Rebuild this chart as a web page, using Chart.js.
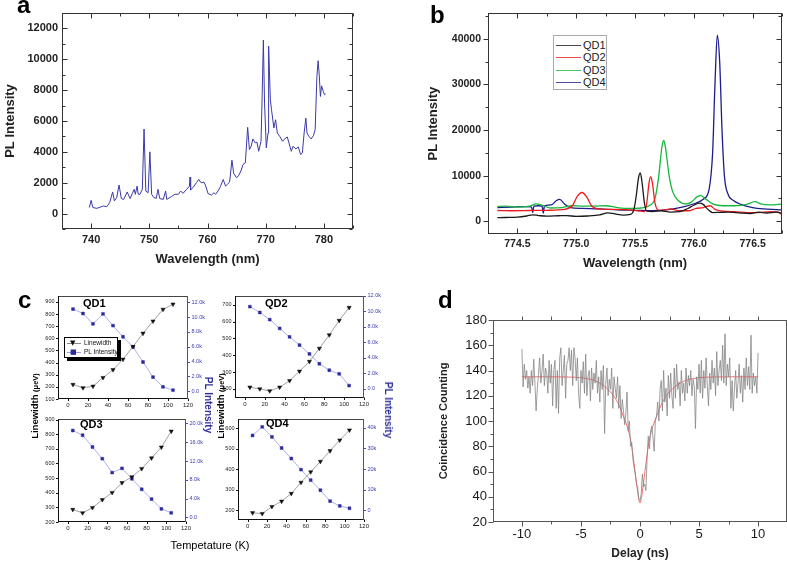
<!DOCTYPE html>
<html><head><meta charset="utf-8">
<script src="https://cdn.jsdelivr.net/npm/chart.js@4.4.1/dist/chart.umd.min.js"></script>
<style>
html,body{margin:0;padding:0;background:#fff;}
body{width:787px;height:561px;position:relative;overflow:hidden;font-family:"Liberation Sans",Arial,Helvetica,sans-serif;}
canvas{position:absolute;}
.t{position:absolute;white-space:nowrap;line-height:1;}
.rot{position:absolute;white-space:nowrap;line-height:1;transform:translate(-50%,-50%) rotate(-90deg);}
.rotR{position:absolute;white-space:nowrap;line-height:1;transform:translate(-50%,-50%) rotate(90deg);}
</style></head><body>
<canvas id="ca"></canvas>
<canvas id="cb"></canvas>
<canvas id="cq1"></canvas>
<canvas id="cq2"></canvas>
<canvas id="cq3"></canvas>
<canvas id="cq4"></canvas>
<canvas id="cd"></canvas>

<div class="t" style="left:17px;top:-7px;font-weight:bold;font-size:24px;">a</div>
<div class="t" style="left:430px;top:3px;font-weight:bold;font-size:24px;">b</div>
<div class="t" style="left:18px;top:288px;font-weight:bold;font-size:24px;">c</div>
<div class="t" style="left:438px;top:288px;font-weight:bold;font-size:24px;">d</div>

<div id="legB" style="position:absolute;left:553px;top:35px;width:52px;height:53px;border:1px solid #aaa;background:#fff;"></div>
<div id="legC" style="position:absolute;left:64px;top:337px;width:52px;height:19px;border:1px solid #000;background:#fff;box-shadow:3px 3px 0 #000;"></div>

<div class="t" style="left:83px;top:298px;font-weight:bold;font-size:11px;">QD1</div>
<div class="t" style="left:265px;top:298px;font-weight:bold;font-size:11px;">QD2</div>
<div class="t" style="left:80px;top:419px;font-weight:bold;font-size:11px;">QD3</div>
<div class="t" style="left:266px;top:418px;font-weight:bold;font-size:11px;">QD4</div>

<div class="rot" style="left:35px;top:406px;font-weight:bold;font-size:9.5px;">Linewidth <span style="font-size:7.5px">(μeV)</span></div>
<div class="rot" style="left:221px;top:406px;font-weight:bold;font-size:9.5px;">Linewidth <span style="font-size:7.5px">(μeV)</span></div>
<div class="rotR" style="left:208px;top:405px;font-weight:bold;font-size:10px;color:#2e2e99;">PL Intensity</div>
<div class="rotR" style="left:388px;top:410px;font-weight:bold;font-size:10px;color:#2e2e99;">PL Intensity</div>
<div class="t" style="left:210px;top:545px;transform:translate(-50%,-50%);font-size:11px;">Tempetature (K)</div>

<script>
// ---------------- DATA ----------------
// Panel a: PL spectrum
const aWavelength = [739.7,740.0,740.3,741.0,742.1,742.7,743.2,743.7,744.0,744.4,744.8,745.2,745.6,746.2,746.7,747.1,747.4,747.6,747.9,748.1,748.4,748.8,749.1,749.4,749.8,750.1,750.4,750.8,751.2,751.5,751.8,752.4,752.8,753.0,753.8,754.4,755.0,755.4,755.8,756.4,756.9,757.0,757.1,757.5,758.1,758.5,758.9,759.4,759.7,760.1,760.7,761.1,761.4,761.8,762.2,762.7,763.1,763.4,763.8,764.2,764.5,765.0,765.4,765.8,766.1,766.5,766.9,767.2,767.5,767.8,768.2,768.5,768.8,769.2,769.4,769.6,769.8,770.1,770.4,770.5,770.8,771.0,771.4,771.7,772.0,772.4,772.9,773.3,773.7,774.0,774.4,774.7,775.2,775.6,776.0,776.3,776.6,776.9,777.1,777.4,777.8,778.2,778.5,778.8,779.0,779.2,779.4,779.6,779.9,780.1,780.3];
const aIntensity = [390,860,390,340,490,450,710,1400,820,1030,1850,970,920,1400,970,1310,1570,1250,1780,1250,1250,1570,5480,1460,1350,4000,1250,1030,990,1570,970,920,1460,920,1100,1250,1250,1460,1310,1570,1780,2370,1530,1680,2000,2210,2000,2040,1780,1290,1200,1350,1250,1460,1740,2210,1780,1890,2040,3460,2600,2320,2490,2820,3180,3290,5590,4150,4360,4840,4580,4620,4040,4690,7800,11240,7160,4260,5220,10860,7370,6730,5550,6080,5220,5010,4690,4840,4970,4580,4040,4360,4190,4320,3830,3930,5220,6190,5220,5010,4840,5050,5440,8880,9910,8990,7590,8280,7910,7700,7760];
const aXTicks = [740,750,760,770,780];
const aYTicks = [0,2000,4000,6000,8000,10000,12000];

// Panel b: four quantum dots
const bSeriesNames = ['QD1','QD2','QD3','QD4'];
const qd1Wavelength = [774.33,774.40,774.50,774.58,774.63,774.68,774.75,774.85,774.92,775.00,775.10,775.20,775.27,775.33,775.40,775.46,775.49,775.51,775.53,775.545,775.56,775.58,775.60,775.65,775.72,775.80,775.88,775.95,776.00,776.05,776.08,776.12,776.16,776.22,776.30,776.40,776.48,776.55,776.62,776.70,776.75];
const qd1Intensity  = [800,820,880,1150,1400,1250,1100,1200,1250,1050,1150,1400,1850,1600,1350,1500,2500,5500,9500,10600,8500,4000,2200,2100,2300,2000,2100,2800,3500,3950,3700,2600,1900,1950,2000,1800,1700,2000,1800,2000,1700];
const qd2Wavelength = [774.33,774.45,774.60,774.75,774.90,774.97,775.01,775.05,775.09,775.13,775.18,775.30,775.45,775.55,775.58,775.60,775.62,775.635,775.65,775.67,775.70,775.76,775.80,775.88,775.95,776.02,776.08,776.14,776.18,776.25,776.35,776.45,776.55,776.65,776.72,776.75];
const qd2Intensity  = [2350,2300,2350,2400,2600,3500,5500,6300,5300,3400,2700,2600,2500,2200,2100,4000,8500,9800,8000,4000,2400,2500,2700,2300,2300,2800,3000,3400,2600,2200,2100,1900,1900,2100,2000,1400];
const qd3Wavelength = [774.33,774.40,774.50,774.60,774.66,774.70,774.78,774.88,774.97,775.05,775.15,775.25,775.35,775.45,775.55,775.62,775.67,775.70,775.73,775.745,775.76,775.79,775.82,775.87,775.93,775.98,776.03,776.06,776.10,776.16,776.25,776.35,776.45,776.52,776.57,776.65,776.75];
const qd3Intensity  = [3200,3300,3100,3300,3800,3600,2900,3000,3400,3300,3300,3400,3000,2800,2900,3400,5000,9500,16500,17700,16000,10000,6500,4500,3800,4200,5400,5600,4900,3800,3400,3400,3700,4300,3800,3600,3800];
const qd4Wavelength = [774.33,774.45,774.55,774.62,774.63,774.64,774.68,774.71,774.72,774.73,774.79,774.83,774.86,774.90,774.95,775.05,775.20,775.35,775.50,775.65,775.80,775.92,776.02,776.08,776.13,776.16,776.18,776.20,776.22,776.24,776.26,776.29,776.34,776.40,776.50,776.60,776.75];
const qd4Intensity  = [3000,3100,3200,3150,1900,3300,3400,3300,1800,3300,3600,4500,4800,3800,3000,2800,2700,2500,2400,2300,2600,3200,4000,4800,7000,15000,30000,40800,35000,20000,10000,6000,4500,3700,3000,2700,2500];
const bXTicks = [774.5,775.0,775.5,776.0,776.5];
const bYTicks = [0,10000,20000,30000,40000];

// Panel c: temperature dependence
const temps = [5,15,25,35,45,55,65,75,85,95,105];
const qd1Linewidth = [219,192,205,276,341,427,532,641,741,838,881];
const qd1PL        = [11100,10500,9100,10450,8860,7350,5980,3940,1900,580,130];
const qd2Linewidth = [210,200,188,210,249,305,363,441,521,607,684];
const qd2PL        = [10600,9850,8930,7790,6700,5640,4500,3240,2400,1940,420];
const qd3Linewidth = [285,262,298,352,401,468,508,564,637,711,820];
const qd3PL        = [18500,17500,14990,12500,9550,10450,8220,5990,3900,1810,980];
const qd4Linewidth = [187,183,217,243,281,335,386,437,489,541,590];
const qd4PL        = [36300,40500,35600,30200,25100,19700,14600,9700,4400,2060,950];
const cXTicks = [0,20,40,60,80,100,120];
const qd1LwTicks = [100,200,300,400,500,600,700,800,900];
const qd2LwTicks = [200,300,400,500,600,700];
const qd3LwTicks = [200,300,400,500,600,700,800,900];
const qd4LwTicks = [200,300,400,500,600];
const qd1PLTicks = [0,2000,4000,6000,8000,10000,12000];
const qd2PLTicks = [0,2000,4000,6000,8000,10000,12000];
const qd3PLTicks = [0,4000,8000,12000,16000,20000];
const qd4PLTicks = [0,10000,20000,30000,40000];

// Panel d: coincidence counts
const dDelay = [-10,-9.9,-9.8,-9.7,-9.6,-9.5,-9.4,-9.3,-9.2,-9.1,-9,-8.9,-8.8,-8.7,-8.6,-8.5,-8.4,-8.3,-8.2,-8.1,-8,-7.9,-7.8,-7.7,-7.6,-7.5,-7.4,-7.3,-7.2,-7.1,-7,-6.9,-6.8,-6.7,-6.6,-6.5,-6.4,-6.3,-6.2,-6.1,-6,-5.9,-5.8,-5.7,-5.6,-5.5,-5.4,-5.3,-5.2,-5.1,-5,-4.9,-4.8,-4.7,-4.6,-4.5,-4.4,-4.3,-4.2,-4.1,-4,-3.9,-3.8,-3.7,-3.6,-3.5,-3.4,-3.3,-3.2,-3.1,-3,-2.9,-2.8,-2.7,-2.6,-2.5,-2.4,-2.3,-2.2,-2.1,-2,-1.9,-1.8,-1.7,-1.6,-1.5,-1.4,-1.3,-1.2,-1.1,-1,-0.9,-0.8,-0.7,-0.6,-0.5,-0.4,-0.3,-0.2,-0.1,0,0.1,0.2,0.3,0.4,0.5,0.6,0.7,0.8,0.9,1,1.1,1.2,1.3,1.4,1.5,1.6,1.7,1.8,1.9,2,2.1,2.2,2.3,2.4,2.5,2.6,2.7,2.8,2.9,3,3.1,3.2,3.3,3.4,3.5,3.6,3.7,3.8,3.9,4,4.1,4.2,4.3,4.4,4.5,4.6,4.7,4.8,4.9,5,5.1,5.2,5.3,5.4,5.5,5.6,5.7,5.8,5.9,6,6.1,6.2,6.3,6.4,6.5,6.6,6.7,6.8,6.9,7,7.1,7.2,7.3,7.4,7.5,7.6,7.7,7.8,7.9,8,8.1,8.2,8.3,8.4,8.5,8.6,8.7,8.8,8.9,9,9.1,9.2,9.3,9.4,9.5,9.6,9.7,9.8,9.9,10];
const dCounts = [157,127,145,133,140,126,135,122,140,128,
 149,130,108,125,137,150,130,140,153,128,
 142,138,122,148,130,145,112,140,148,110,
 140,106,150,158,128,140,152,118,145,148,
 158,140,156,128,158,150,132,150,122,110,
 140,130,147,122,153,120,135,140,116,142,
 125,138,130,148,122,135,115,140,125,144,
 90,130,142,120,133,125,142,110,135,126,
 118,135,110,128,102,117,108,97,106,123,
 92,100,80,83,70,63,58,50,48,38,
 37,42,58,48,50,45,70,88,78,92,
 96,87,76,100,104,115,100,125,132,108,
 140,115,126,104,136,118,138,120,110,142,
 118,145,125,131,112,140,122,130,116,142,
 122,136,128,140,120,133,127,94,135,125,
 145,122,148,118,140,126,150,128,112,138,
 125,148,130,142,120,155,128,140,148,132,
 160,130,169,128,145,135,150,110,132,108,
 125,140,118,130,145,122,136,115,142,125,
 150,128,143,125,168,122,138,128,135,122,
 154];
const dFitDelay = [-10,-8,-6,-5,-4,-3.5,-3,-2.5,-2,-1.75,-1.5,-1.25,-1,-0.75,-0.5,-0.35,-0.2,-0.1,0,0.1,0.2,0.35,0.5,0.75,1,1.25,1.5,1.75,2,2.5,3,3.5,4,5,6,8,10];
const dFitCount = [135,135,134.8,134.3,132.5,130.5,127.5,123,116.5,112,106,100,93,83,66,55,44,38,35,38,44,55,66,83,93,100,106,112,116.5,123,127.5,130.5,132.5,134.3,134.8,135,135];
const dXTicks = [-10,-5,0,5,10];
const dYTicks = [20,40,60,80,100,120,140,160,180];

// ---------------- HELPERS ----------------
Chart.defaults.font.family = "'Liberation Sans', Arial, Helvetica, sans-serif";
Chart.defaults.color = '#1a1a1a';

const pts = (xs, ys) => xs.map((x, i) => ({x, y: ys[i]}));
const fixedTicks = arr => (s => { s.ticks = arr.map(v => ({value: v})); });
const plain = v => String(v);

const frameTicks = {
  id: 'frameTicks',
  afterDatasetsDraw(chart, args, o) {
    if (!o || !o.sides) return;
    const {ctx, chartArea: a} = chart;
    const L = Math.round(a.left) + 0.5, R = Math.round(a.right) - 0.5;
    const T = Math.round(a.top) + 0.5, B = Math.round(a.bottom) - 0.5;
    ctx.save();
    ctx.lineWidth = 1;
    for (const side of ['top', 'bottom', 'left', 'right']) {
      const s = o.sides[side];
      if (!s) continue;
      ctx.strokeStyle = s.color;
      ctx.beginPath();
      if (side === 'left') { ctx.moveTo(L, T - 0.5); ctx.lineTo(L, B + 0.5); }
      if (side === 'right') { ctx.moveTo(R, T - 0.5); ctx.lineTo(R, B + 0.5); }
      if (side === 'top') { ctx.moveTo(L - 0.5, T); ctx.lineTo(R + 0.5, T); }
      if (side === 'bottom') { ctx.moveTo(L - 0.5, B); ctx.lineTo(R + 0.5, B); }
      const sc = s.scale ? chart.scales[s.scale] : null;
      if (sc && s.dir) {
        const vals = sc.ticks.map(t => ({v: t.value, len: s.len}));
        if (s.minor) {
          const st = s.minor;
          for (let v = Math.ceil(sc.min / st) * st; v <= sc.max + 1e-9; v += st) {
            if (!sc.ticks.some(t => Math.abs(t.value - v) < st * 1e-3)) vals.push({v, len: s.minorLen});
          }
        }
        for (const {v, len} of vals) {
          const p = Math.round(sc.getPixelForValue(v)) + 0.5;
          const d = len * s.dir;
          if (side === 'left') { ctx.moveTo(L, p); ctx.lineTo(L + d, p); }
          if (side === 'right') { ctx.moveTo(R, p); ctx.lineTo(R - d, p); }
          if (side === 'top') { ctx.moveTo(p, T); ctx.lineTo(p, T + d); }
          if (side === 'bottom') { ctx.moveTo(p, B); ctx.lineTo(p, B - d); }
        }
      }
      ctx.stroke();
    }
    ctx.restore();
  }
};

function build(id, rect, area, cfg) {
  const cv = document.getElementById(id);
  cv.width = rect.w; cv.height = rect.h;
  cv.style.left = rect.x + 'px'; cv.style.top = rect.y + 'px';
  cv.style.width = rect.w + 'px'; cv.style.height = rect.h + 'px';
  const leftW = area.l - rect.x, rightW = rect.x + rect.w - area.r;
  const topP = area.t - rect.y, bottomH = rect.y + rect.h - area.b;
  const scales = cfg.scales;
  const hasRight = Object.values(scales).some(s => s.position === 'right');
  for (const k in scales) {
    const s = scales[k];
    const size = s.position === 'left' ? leftW : s.position === 'right' ? rightW : bottomH;
    s.afterFit = sc => { if (sc.isHorizontal()) sc.height = size; else sc.width = size; };
    s.grid = {display: false, drawTicks: false};
    s.border = {display: false};
    s.ticks = Object.assign({autoSkip: false, maxRotation: 0, minRotation: 0, callback: plain}, s.ticks || {});
  }
  return new Chart(cv, {
    type: 'line',
    data: {datasets: cfg.datasets},
    options: {
      responsive: false, animation: false, devicePixelRatio: 1,
      layout: {padding: {left: 0, top: topP, right: hasRight ? 0 : rightW, bottom: 0}},
      plugins: {legend: {display: false}, tooltip: {enabled: false}, frameTicks: cfg.frame},
      scales
    },
    plugins: [frameTicks]
  });
}

// ---------------- PANEL A ----------------
build('ca', {x: 0, y: 0, w: 400, h: 275}, {l: 62, t: 13, r: 353, b: 229}, {
  datasets: [{data: pts(aWavelength, aIntensity), borderColor: '#3a3aa8', borderWidth: 1, pointRadius: 0, tension: 0}],
  scales: {
    x: {type: 'linear', position: 'bottom', min: 735, max: 785, afterBuildTicks: fixedTicks(aXTicks),
        ticks: {font: {size: 11, weight: 'bold'}, padding: 4, color: '#222'},
        title: {display: true, text: 'Wavelength (nm)', font: {size: 13, weight: 'bold'}, padding: {top: 0, bottom: 8}, color: '#222'}},
    y: {type: 'linear', position: 'left', min: -1000, max: 13000, afterBuildTicks: fixedTicks(aYTicks),
        ticks: {font: {size: 11, weight: 'bold'}, padding: 4, color: '#222'},
        title: {display: true, text: 'PL Intensity', font: {size: 13, weight: 'bold'}, padding: {top: 3, bottom: 0}, color: '#222'}}
  },
  frame: {sides: {
    left: {color: '#333', scale: 'y', dir: 1, len: 5, minor: 1000, minorLen: 3},
    right: {color: '#333', scale: 'y', dir: 1, len: 5, minor: 1000, minorLen: 3},
    bottom: {color: '#333', scale: 'x', dir: 1, len: 5, minor: 5, minorLen: 3},
    top: {color: '#333', scale: 'x', dir: 1, len: 5, minor: 5, minorLen: 3}
  }}
});

// ---------------- PANEL B ----------------
const bColors = ['#1a1a1a', '#ee1c1c', '#14b83c', '#1c1c8c'];
const bX = [qd1Wavelength, qd2Wavelength, qd3Wavelength, qd4Wavelength];
const bY = [qd1Intensity, qd2Intensity, qd3Intensity, qd4Intensity];
build('cb', {x: 420, y: 0, w: 367, h: 280}, {l: 488, t: 13, r: 782, b: 234}, {
  datasets: bSeriesNames.map((n, i) => ({label: n, data: pts(bX[i], bY[i]), borderColor: bColors[i], borderWidth: 1.3, pointRadius: 0, cubicInterpolationMode: 'monotone'})),
  scales: {
    x: {type: 'linear', position: 'bottom', min: 774.25, max: 776.75, afterBuildTicks: fixedTicks(bXTicks),
        ticks: {font: {size: 10.5, weight: 'bold'}, padding: 4, color: '#222', callback: v => v.toFixed(1)},
        title: {display: true, text: 'Wavelength (nm)', font: {size: 13, weight: 'bold'}, padding: {top: 0, bottom: 8.7}, color: '#222'}},
    y: {type: 'linear', position: 'left', min: -2800, max: 45600, afterBuildTicks: fixedTicks(bYTicks),
        ticks: {font: {size: 10.5, weight: 'bold'}, padding: 7, color: '#222'},
        title: {display: true, text: 'PL Intensity', font: {size: 13, weight: 'bold'}, padding: {top: 5.7, bottom: 0}, color: '#222'}}
  },
  frame: {sides: {
    left: {color: '#333', scale: 'y', dir: -1, len: 5, minor: 5000, minorLen: 3},
    right: {color: '#333', scale: 'y', dir: 1, len: 5, minor: 5000, minorLen: 3},
    bottom: {color: '#333', scale: 'x', dir: 1, len: 5, minor: 0.25, minorLen: 3},
    top: {color: '#333', scale: 'x', dir: 1, len: 5, minor: 0.25, minorLen: 3}
  }}
});

// legend b
(function () {
  const leg = document.getElementById('legB');
  bSeriesNames.forEach((n, i) => {
    const row = document.createElement('div');
    row.style.cssText = 'position:absolute;left:0;top:' + (3 + i * 12.3) + 'px;height:12px;width:52px;';
    row.innerHTML = '<div style="position:absolute;left:2px;top:6px;width:25px;border-top:1.5px solid ' + bColors[i] + ';opacity:0.8"></div>' +
      '<div style="position:absolute;left:29px;top:0;font-size:11px;line-height:12px;color:#222;white-space:nowrap">' + n + '</div>';
    leg.appendChild(row);
  });
})();

// ---------------- PANEL C ----------------
const plFmt = v => v === 0 ? '0.0' : (v / 1000).toFixed(1) + 'k';
const plFmtK = v => v === 0 ? '0' : (v / 1000) + 'k';
function qdChart(id, rect, area, lw, pl, yr, y1r, lwTicks, plTicks, fmt) {
  return build(id, rect, area, {
    datasets: [
      {data: pts(temps, lw), yAxisID: 'y', borderColor: '#8a8a8a', borderWidth: 0.8, pointStyle: 'triangle', pointRotation: 180, pointRadius: 2.4, pointBackgroundColor: '#111', pointBorderColor: '#111', pointBorderWidth: 0.5},
      {data: pts(temps, pl), yAxisID: 'y1', borderColor: '#9a9ae6', borderWidth: 0.8, pointStyle: 'rect', pointRadius: 2, pointBackgroundColor: '#2b2b9c', pointBorderColor: '#2b2b9c', pointBorderWidth: 0.5}
    ],
    scales: {
      x: {type: 'linear', position: 'bottom', min: -10, max: 120, afterBuildTicks: fixedTicks(cXTicks),
          ticks: {font: {size: 6}, padding: 3, color: '#222'}},
      y: {type: 'linear', position: 'left', min: yr[0], max: yr[1], afterBuildTicks: fixedTicks(lwTicks),
          ticks: {font: {size: 5.5}, padding: 3.5, color: '#222'}},
      y1: {type: 'linear', position: 'right', min: y1r[0], max: y1r[1], afterBuildTicks: fixedTicks(plTicks),
          ticks: {font: {size: 5.5}, padding: 3.5, color: '#3b3bb0', callback: fmt}}
    },
    frame: {sides: {
      top: {color: '#444'},
      left: {color: '#111', scale: 'y', dir: -1, len: 2.5},
      right: {color: '#4a4ac0', scale: 'y1', dir: -1, len: 2.5},
      bottom: {color: '#111', scale: 'x', dir: -1, len: 2.5}
    }}
  });
}
qdChart('cq1', {x: 33, y: 289, w: 180, h: 124}, {l: 58, t: 294, r: 188, b: 399}, qd1Linewidth, qd1PL, [100, 950], [-1060, 12890], qd1LwTicks, qd1PLTicks, plFmt);
qdChart('cq2', {x: 210, y: 289, w: 180, h: 124}, {l: 235, t: 294, r: 364, b: 398}, qd2Linewidth, qd2PL, [146, 754], [-1180, 12000], qd2LwTicks, qd2PLTicks, plFmt);
qdChart('cq3', {x: 33, y: 412, w: 180, h: 124}, {l: 58, t: 417, r: 186, b: 522}, qd3Linewidth, qd3PL, [200, 905], [-980, 21000], qd3LwTicks, qd3PLTicks, plFmt);
qdChart('cq4', {x: 213, y: 412, w: 176, h: 124}, {l: 238, t: 417, r: 364, b: 520}, qd4Linewidth, qd4PL, [152, 645], [-4760, 44400], qd4LwTicks, qd4PLTicks, plFmtK);

// legend c (QD1)
(function () {
  const leg = document.getElementById('legC');
  const items = [['Linewidth', '#111', '#8a8a8a', '▼'], ['PL Intensity', '#2b2b9c', '#9a9ae6', '■']];
  items.forEach((it, i) => {
    const row = document.createElement('div');
    row.style.cssText = 'position:absolute;left:0;top:' + (1 + i * 8.5) + 'px;height:8px;width:52px;';
    row.innerHTML = '<div style="position:absolute;left:2px;top:4px;width:14px;border-top:1px solid ' + it[2] + '"></div>' +
      '<div style="position:absolute;left:5px;top:0;font-family:\'DejaVu Sans\';font-size:7px;line-height:8px;color:' + it[1] + '">' + it[3] + '</div>' +
      '<div style="position:absolute;left:19px;top:0;font-size:6.5px;line-height:8px;color:#111;white-space:nowrap">' + it[0] + '</div>';
    leg.appendChild(row);
  });
})();

// ---------------- PANEL D ----------------
build('cd', {x: 430, y: 285, w: 357, h: 276}, {l: 493, t: 320, r: 787, b: 522}, {
  datasets: [
    {data: pts(dDelay, dCounts), borderColor: '#858585', borderWidth: 0.8, pointRadius: 0, tension: 0},
    {data: pts(dFitDelay, dFitCount), borderColor: '#ff6a6a', borderWidth: 1, pointRadius: 0, cubicInterpolationMode: 'monotone'}
  ],
  scales: {
    x: {type: 'linear', position: 'bottom', min: -12.45, max: 12.45, afterBuildTicks: fixedTicks(dXTicks),
        ticks: {font: {size: 13}, padding: 5, color: '#1a1a1a'},
        title: {display: true, text: 'Delay (ns)', font: {size: 12, weight: 'bold'}, padding: {top: 0, bottom: 0}, color: '#222'}},
    y: {type: 'linear', position: 'left', min: 20, max: 180, afterBuildTicks: fixedTicks(dYTicks),
        ticks: {font: {size: 13}, padding: 6, color: '#1a1a1a'},
        title: {display: true, text: 'Coincidence Counting', font: {size: 11, weight: 'bold'}, padding: {top: 7.4, bottom: 0}, color: '#222'}}
  },
  frame: {sides: {
    left: {color: '#555', scale: 'y', dir: -1, len: 5, minor: 10, minorLen: 3},
    right: {color: '#555'},
    bottom: {color: '#555', scale: 'x', dir: -1, len: 5, minor: 2.5, minorLen: 3},
    top: {color: '#555', scale: 'x', dir: -1, len: 4, minor: 2.5, minorLen: 4}
  }}
});
</script>
</body></html>
